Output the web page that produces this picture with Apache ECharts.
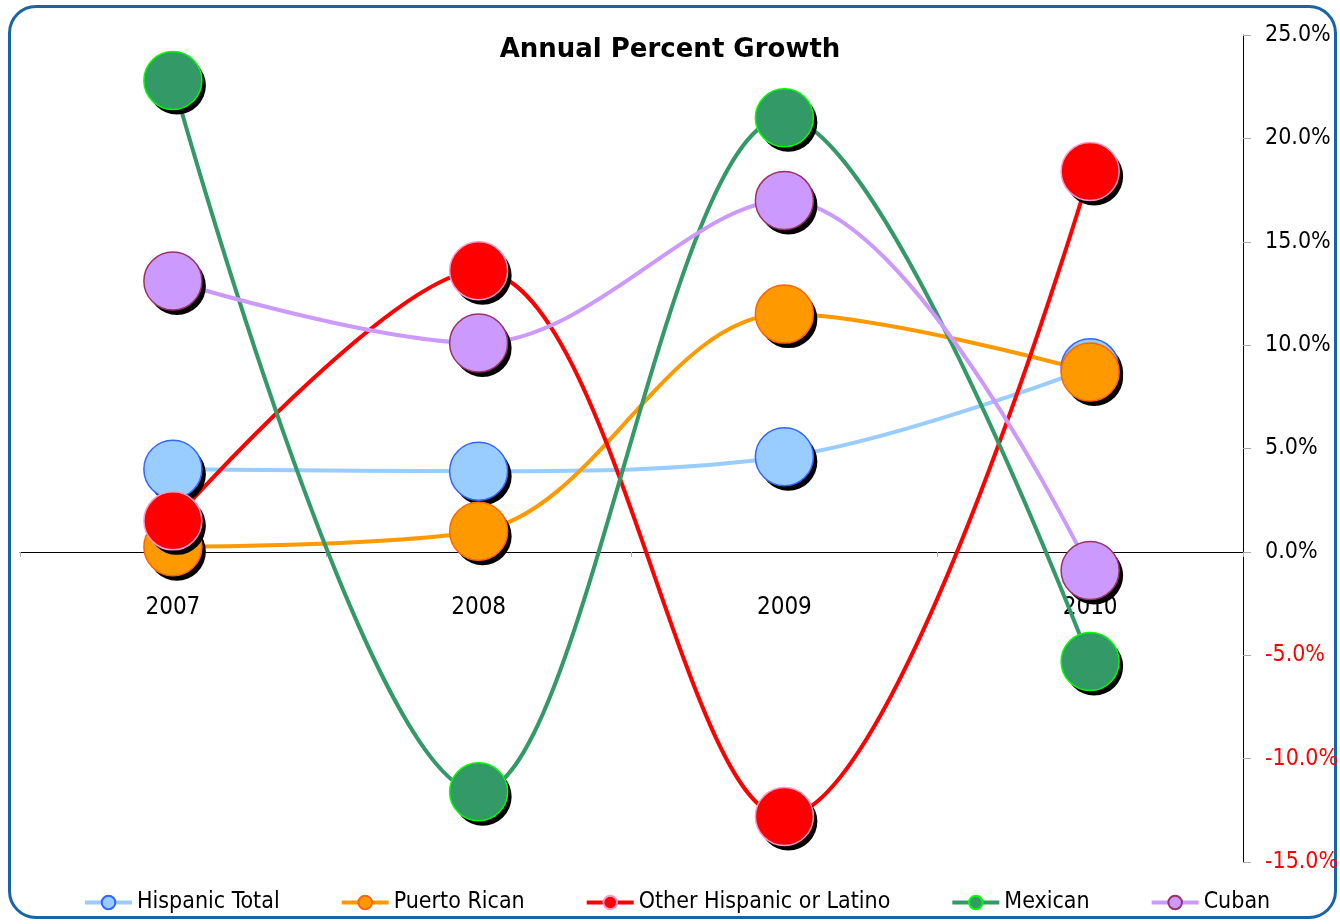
<!DOCTYPE html>
<html>
<head>
<meta charset="utf-8">
<script src="https://cdn.jsdelivr.net/npm/echarts@6/dist/echarts.min.js"></script>
<style>
html,body{margin:0;padding:0;background:#fff;}
#frame{position:absolute;left:8px;top:5px;width:1329px;height:914px;border:3px solid #1565a8;border-radius:28px;box-sizing:border-box;}
#chart{position:absolute;left:0;top:0;width:1340px;height:924px;}
</style>
</head>
<body>
<div id="frame"></div>
<div id="chart"></div>
<script>
const years = ['2007', '2008', '2009', '2010'];
const hispanicTotal = [4.0, 3.9, 4.6, 8.9];
const puertoRican = [0.25, 1.0, 11.5, 8.7];
const otherHispanic = [1.5, 13.6, -12.8, 18.4];
const mexican = [22.8, -11.6, 21.0, -5.3];
const cuban = [13.1, 10.1, 17.0, -0.9];
const yTicks = {min: -15, max: 25, interval: 5};
const names = ['Hispanic Total', 'Puerto Rican', 'Other Hispanic or Latino', 'Mexican', 'Cuban'];

const FONT = '"Liberation Sans Narrow","DejaVu Sans Condensed",sans-serif';
const W = 1340, H = 924;
const GRID = {left: 20, right: 97, top: 35, bottom: 62, containLabel: false, outerBoundsMode: 'none'};
const gridH = H - GRID.top - GRID.bottom;
// place the category axis on the zero line of the value scale
const zeroOffset = -gridH * (0 - yTicks.min) / (yTicks.max - yTicks.min);

const SYM = 58;
function shadow(data) {
  return {
    type: 'scatter', data: data, symbol: 'circle', symbolSize: SYM, symbolOffset: [4, 5],
    itemStyle: {color: '#000', opacity: 1}, silent: true, emphasis: {disabled: true}, z: 2
  };
}
function mk(name, data, line, fill, border) {
  return {
    name: name, type: 'line', data: data, smooth: 0.35,
    symbol: 'circle', symbolSize: SYM, showAllSymbol: true,
    lineStyle: {color: line, width: 4},
    itemStyle: {color: fill, borderColor: border, borderWidth: 1.5},
    emphasis: {disabled: true}, z: 2
  };
}

const chart = echarts.init(document.getElementById('chart'), null, {renderer: 'canvas'});
chart.setOption({
  animation: false,
  title: {text: 'Annual Percent Growth', left: 'center', top: 32,
    textStyle: {fontFamily: '"DejaVu Sans",sans-serif', fontWeight: 'bold', fontSize: 26, color: '#000'}},
  grid: GRID,
  legend: {
    data: names, padding: 0,
    left: 83, top: 891, itemWidth: 47, itemHeight: 17, itemGap: 60,
    textStyle: {fontFamily: FONT, fontSize: 23, color: '#000'},
    lineStyle: {width: 4}
  },
  xAxis: {
    type: 'category', data: years, boundaryGap: true, position: 'bottom', offset: zeroOffset,
    axisLine: {onZero: false, lineStyle: {color: '#000', width: 1}},
    axisTick: {show: true, length: 5, lineStyle: {color: '#aaa'}},
    axisLabel: {margin: 44, fontFamily: FONT, fontSize: 24, color: '#000'}
  },
  yAxis: {
    type: 'value', position: 'right', min: yTicks.min, max: yTicks.max, interval: yTicks.interval,
    splitLine: {show: false},
    axisLine: {show: true, lineStyle: {color: '#000', width: 1}},
    axisTick: {show: true, length: 8, lineStyle: {color: '#aaa'}},
    axisLabel: {margin: 22, fontFamily: FONT, fontSize: 23,
      formatter: v => v.toFixed(1) + '%',
      color: v => (Number(v) < 0 ? '#ff0000' : '#000')}
  },
  series: [
    shadow(hispanicTotal),
    mk(names[0], hispanicTotal, '#99ccff', '#99ccff', '#3366ff'),
    shadow(puertoRican),
    mk(names[1], puertoRican, '#ff9900', '#ff9900', '#ff6600'),
    shadow(otherHispanic),
    mk(names[2], otherHispanic, '#ff0000', '#ff0000', '#ff99cc'),
    shadow(mexican),
    mk(names[3], mexican, '#339966', '#339966', '#00ff00'),
    shadow(cuban),
    mk(names[4], cuban, '#cc99ff', '#cc99ff', '#993366')
  ]
});
</script>
</body>
</html>
